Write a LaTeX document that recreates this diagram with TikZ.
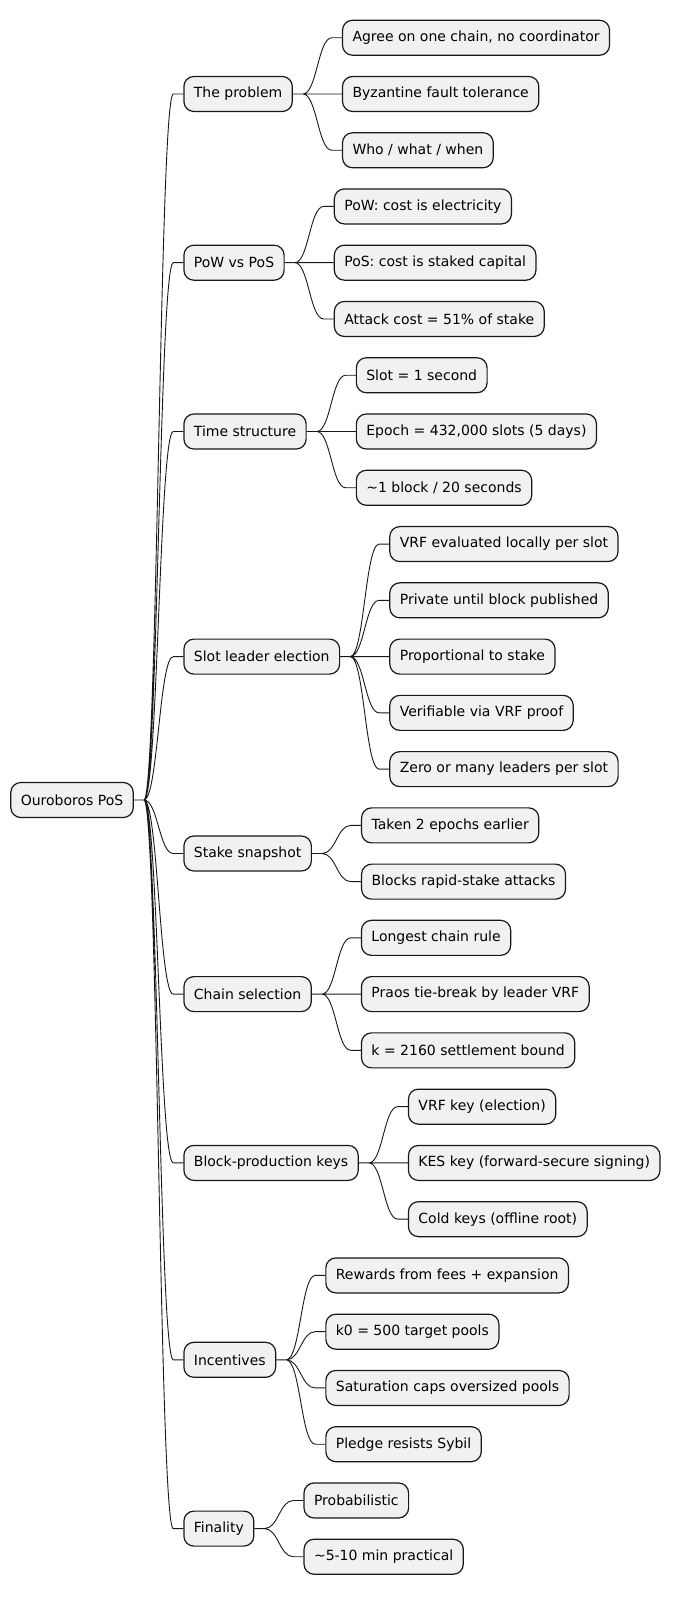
\documentclass[tikz,border=0pt]{standalone}
\usepackage{fontspec}
\setmainfont{DejaVu Sans}
\usepackage{xcolor}
\usepackage{tikz}
\usetikzlibrary{positioning,calc}
\definecolor{Ink}{HTML}{181818}
\definecolor{BoxFill}{HTML}{F1F1F1}

\begin{document}
\begin{tikzpicture}[
  x=1pt,y=-1pt,
  topic/.style={draw=Ink,fill=BoxFill,line width=1.2pt,rounded corners=10pt,minimum height=35pt,inner xsep=10pt,inner ysep=0pt,font=\fontsize{14pt}{16pt}\selectfont,text=black},
  link/.style={draw=Ink,line width=0.9pt},
  branch/.style={to path={-- ++(10pt,0) .. controls +(14pt,0) and +(-14pt,0) .. ([xshift=-10pt]\tikztotarget.west) -- (\tikztotarget.west)}}
]
  \useasboundingbox (0,0) rectangle (672,1597);
  % root
  \node[topic,anchor=west] (root) at (10.2,800) {Ouroboros PoS};
  % main topics
  \node[topic,anchor=west] (prob) at (183.3,94.0) {The problem};
  \node[topic,anchor=west] (pow) at (183.3,262.7) {PoW vs PoS};
  \node[topic,anchor=west] (time) at (183.3,431.5) {Time structure};
  \node[topic,anchor=west] (slot) at (183.3,656.6) {Slot leader election};
  \node[topic,anchor=west] (snap) at (183.3,853.5) {Stake snapshot};
  \node[topic,anchor=west] (chain) at (183.3,994.1) {Chain selection};
  \node[topic,anchor=west] (keys) at (183.3,1162.9) {Block-production keys};
  \node[topic,anchor=west] (incent) at (183.3,1359.8) {Incentives};
  \node[topic,anchor=west] (final) at (183.3,1528.6) {Finality};
  % leaves
  \node[topic,right=49pt of prob,yshift=56.26pt] (prob1) {Agree on one chain, no coordinator};
  \node[topic,right=49pt of prob] (prob2) {Byzantine fault tolerance};
  \node[topic,right=49pt of prob,yshift=-56.26pt] (prob3) {Who / what / when};
  \node[topic,right=49pt of pow,yshift=56.26pt] (pow1) {PoW: cost is electricity};
  \node[topic,right=49pt of pow] (pow2) {PoS: cost is staked capital};
  \node[topic,right=49pt of pow,yshift=-56.26pt] (pow3) {Attack cost = 51\% of stake};
  \node[topic,right=49pt of time,yshift=56.26pt] (time1) {Slot = 1 second};
  \node[topic,right=49pt of time] (time2) {Epoch = 432,000 slots (5 days)};
  \node[topic,right=49pt of time,yshift=-56.26pt] (time3) {\char`\~1 block / 20 seconds};
  \node[topic,right=49pt of slot,yshift=112.52pt] (slot1) {VRF evaluated locally per slot};
  \node[topic,right=49pt of slot,yshift=56.26pt] (slot2) {Private until block published};
  \node[topic,right=49pt of slot] (slot3) {Proportional to stake};
  \node[topic,right=49pt of slot,yshift=-56.26pt] (slot4) {Verifiable via VRF proof};
  \node[topic,right=49pt of slot,yshift=-112.52pt] (slot5) {Zero or many leaders per slot};
  \node[topic,right=49pt of snap,yshift=28.13pt] (snap1) {Taken 2 epochs earlier};
  \node[topic,right=49pt of snap,yshift=-28.13pt] (snap2) {Blocks rapid-stake attacks};
  \node[topic,right=49pt of chain,yshift=56.26pt] (chain1) {Longest chain rule};
  \node[topic,right=49pt of chain] (chain2) {Praos tie-break by leader VRF};
  \node[topic,right=49pt of chain,yshift=-56.26pt] (chain3) {k = 2160 settlement bound};
  \node[topic,right=49pt of keys,yshift=56.26pt] (keys1) {VRF key (election)};
  \node[topic,right=49pt of keys] (keys2) {KES key (forward-secure signing)};
  \node[topic,right=49pt of keys,yshift=-56.26pt] (keys3) {Cold keys (offline root)};
  \node[topic,right=49pt of incent,yshift=84.39pt] (incent1) {Rewards from fees + expansion};
  \node[topic,right=49pt of incent,yshift=28.13pt] (incent2) {k0 = 500 target pools};
  \node[topic,right=49pt of incent,yshift=-28.13pt] (incent3) {Saturation caps oversized pools};
  \node[topic,right=49pt of incent,yshift=-84.39pt] (incent4) {Pledge resists Sybil};
  \node[topic,right=49pt of final,yshift=28.13pt] (final1) {Probabilistic};
  \node[topic,right=49pt of final,yshift=-28.13pt] (final2) {\char`\~5-10 min practical};
  % connectors
  \draw[link,branch] (root.east) to (prob) (root.east) to (pow) (root.east) to (time)
    (root.east) to (slot) (root.east) to (snap) (root.east) to (chain)
    (root.east) to (keys) (root.east) to (incent) (root.east) to (final);
  \draw[link,branch] (prob.east) to (prob1) (prob.east) to (prob2) (prob.east) to (prob3);
  \draw[link,branch] (pow.east) to (pow1) (pow.east) to (pow2) (pow.east) to (pow3);
  \draw[link,branch] (time.east) to (time1) (time.east) to (time2) (time.east) to (time3);
  \draw[link,branch] (slot.east) to (slot1) (slot.east) to (slot2) (slot.east) to (slot3)
    (slot.east) to (slot4) (slot.east) to (slot5);
  \draw[link,branch] (snap.east) to (snap1) (snap.east) to (snap2);
  \draw[link,branch] (chain.east) to (chain1) (chain.east) to (chain2) (chain.east) to (chain3);
  \draw[link,branch] (keys.east) to (keys1) (keys.east) to (keys2) (keys.east) to (keys3);
  \draw[link,branch] (incent.east) to (incent1) (incent.east) to (incent2)
    (incent.east) to (incent3) (incent.east) to (incent4);
  \draw[link,branch] (final.east) to (final1) (final.east) to (final2);
\end{tikzpicture}
\end{document}
